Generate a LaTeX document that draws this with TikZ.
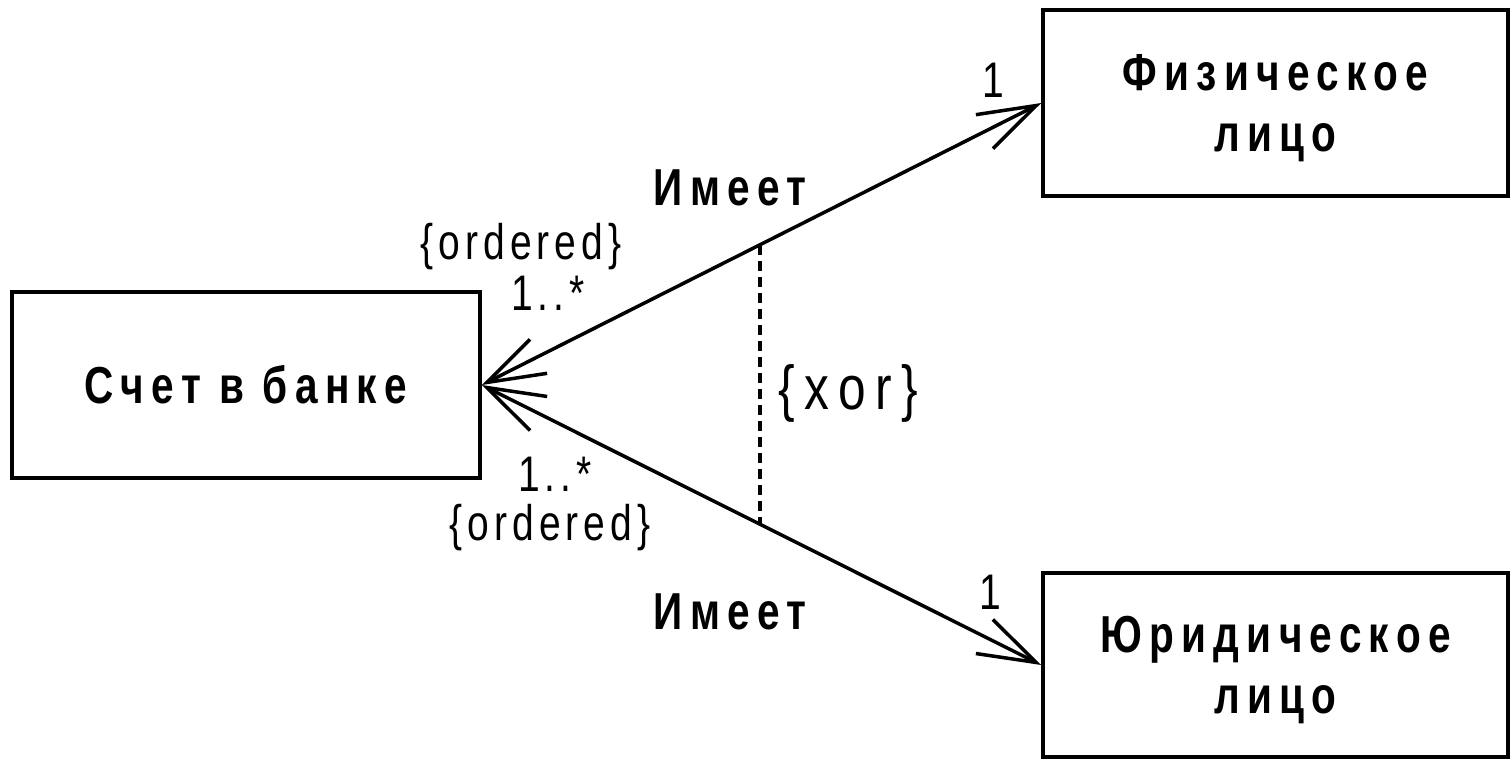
\documentclass[tikz,border=0pt]{standalone}
\usepackage{fontspec}
\setmainfont{Liberation Sans}
\newfontfamily\boxfont[FakeStretch=0.78,LetterSpace=14]{Liberation Sans}
\newfontfamily\labfont[FakeStretch=0.78,LetterSpace=10]{Liberation Sans}
\newfontfamily\xorfont[FakeStretch=0.8,LetterSpace=15]{Liberation Sans}
\usetikzlibrary{arrows.meta}
\begin{document}
\begin{tikzpicture}[x=1pt,y=-1pt,
  cls/.style={draw,line width=3.5pt,rectangle,inner sep=0pt,align=center,
    font=\boxfont\bfseries\fontsize{52}{61}\selectfont},
  assoc/.style={line width=3.5pt,{Straight Barb[length=58pt,width=38pt,line width=3.5pt]}-{Straight Barb[length=58pt,width=38pt,line width=3.5pt]}},
  lab/.style={inner sep=0pt,font=\labfont\fontsize{50}{50}\selectfont},
  rel/.style={inner sep=0pt,font=\boxfont\bfseries\fontsize{52}{52}\selectfont}]
\useasboundingbox (0,0) rectangle (1512,760);
\node[cls,minimum width=468pt,minimum height=186pt] (acc) at (246,385) {Счет в банке};
\node[cls,minimum width=465pt,minimum height=186pt] (phys) at (1275.5,103) {\rule{0pt}{46pt}Физическое\\лицо};
\node[cls,minimum width=465pt,minimum height=184pt] (jur) at (1275.5,665) {\rule{0pt}{46pt}Юридическое\\лицо};
\draw[assoc] (acc.east) -- (phys.west);
\draw[assoc] (acc.east) -- (jur.west);
\coordinate (xtop) at (760,245);
\coordinate (xbot) at (760,524);
\draw[line width=3.5pt,dash pattern=on 10pt off 6pt] (xtop) -- (xbot);
\node[inner sep=0pt,font=\xorfont\fontsize{62}{62}\selectfont] (xor) at (848,393) {\{xor\}};
\node[rel] (r1) at (730,188) {Имеет};
\node[rel] (r2) at (730,612) {Имеет};
\node[lab] (o1) at (521,247) {\{ordered\}};
\node[lab] (m1) at (548,293) {1..*};
\node[lab] (m2) at (555,474) {1..*};
\node[lab] (o2) at (550,528) {\{ordered\}};
\node[lab] (n1) at (993,80) {1};
\node[lab] (n2) at (990,592) {1};
\end{tikzpicture}
\end{document}
